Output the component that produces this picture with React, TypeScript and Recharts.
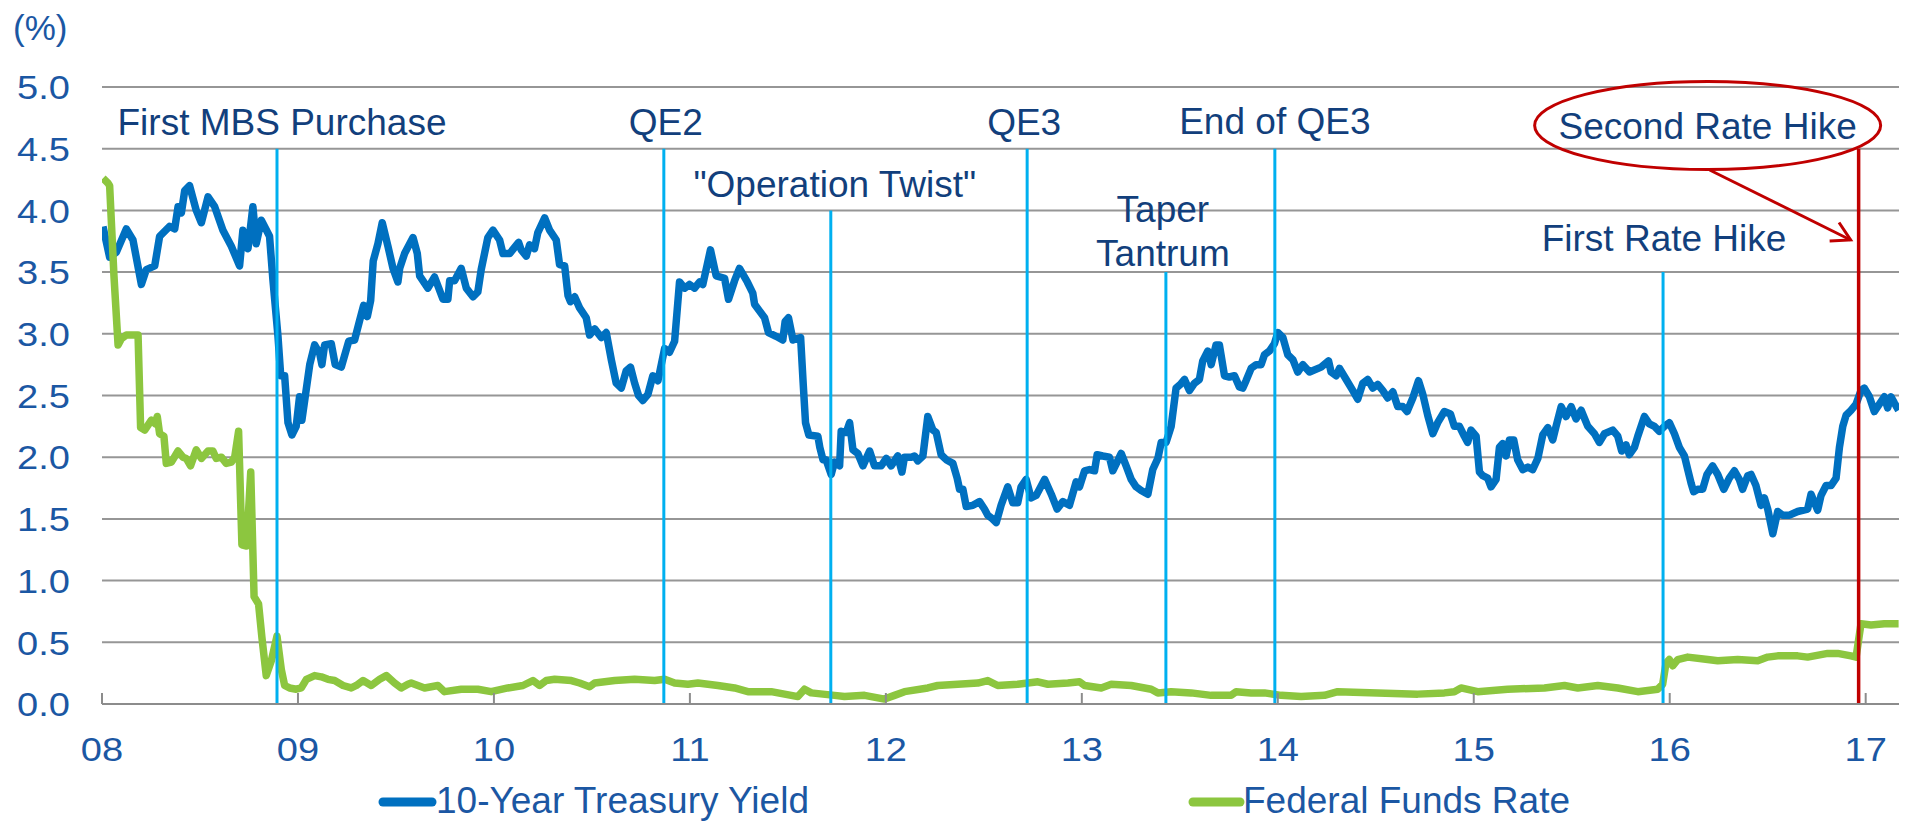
import { CartesianGrid, Customized, Line, LineChart, ReferenceLine, XAxis, YAxis } from "recharts";

// 10-year treasury yield, [decimal year, %]
const treasuryYield: [number, number][] = [
  [2008.005, 3.87], [2008.039, 3.62], [2008.073, 3.66], [2008.124, 3.85], [2008.158, 3.76], [2008.201, 3.4], [2008.226, 3.52],
  [2008.269, 3.55], [2008.294, 3.79], [2008.345, 3.87], [2008.371, 3.85], [2008.388, 4.03], [2008.405, 3.98], [2008.422, 4.16],
  [2008.447, 4.2], [2008.481, 4.0], [2008.507, 3.9], [2008.541, 4.11], [2008.575, 4.03], [2008.617, 3.84], [2008.66, 3.71],
  [2008.702, 3.55], [2008.719, 3.84], [2008.745, 3.69], [2008.77, 4.03], [2008.787, 3.73], [2008.813, 3.92], [2008.855, 3.79],
  [2008.872, 3.44], [2008.898, 2.98], [2008.912, 2.66], [2008.932, 2.66], [2008.949, 2.28], [2008.969, 2.18], [2008.991, 2.25],
  [2009.008, 2.49], [2009.02, 2.3], [2009.037, 2.49], [2009.06, 2.75], [2009.085, 2.91], [2009.111, 2.84], [2009.122, 2.75],
  [2009.136, 2.91], [2009.17, 2.92], [2009.19, 2.75], [2009.221, 2.73], [2009.259, 2.94], [2009.289, 2.95], [2009.315, 3.11],
  [2009.335, 3.23], [2009.354, 3.14], [2009.371, 3.27], [2009.384, 3.59], [2009.408, 3.73], [2009.43, 3.9], [2009.459, 3.71],
  [2009.485, 3.53], [2009.51, 3.42], [2009.519, 3.53], [2009.544, 3.65], [2009.587, 3.78], [2009.609, 3.65], [2009.621, 3.47],
  [2009.663, 3.37], [2009.697, 3.46], [2009.74, 3.28], [2009.765, 3.28], [2009.774, 3.43], [2009.799, 3.43], [2009.833, 3.53],
  [2009.859, 3.37], [2009.893, 3.3], [2009.918, 3.34], [2009.935, 3.52], [2009.969, 3.78], [2009.995, 3.84], [2010.029, 3.76],
  [2010.046, 3.65], [2010.08, 3.65], [2010.126, 3.74], [2010.139, 3.68], [2010.165, 3.63], [2010.182, 3.72], [2010.207, 3.69],
  [2010.224, 3.82], [2010.259, 3.94], [2010.284, 3.84], [2010.318, 3.76], [2010.335, 3.56], [2010.361, 3.55], [2010.378, 3.31],
  [2010.391, 3.26], [2010.412, 3.3], [2010.437, 3.21], [2010.471, 3.13], [2010.488, 2.99], [2010.514, 3.04], [2010.548, 2.97],
  [2010.573, 3.01], [2010.599, 2.79], [2010.624, 2.6], [2010.65, 2.56], [2010.675, 2.7], [2010.697, 2.73], [2010.718, 2.6],
  [2010.738, 2.5], [2010.76, 2.46], [2010.786, 2.51], [2010.811, 2.66], [2010.837, 2.62], [2010.871, 2.88], [2010.896, 2.85],
  [2010.922, 2.94], [2010.947, 3.42], [2010.973, 3.37], [2010.998, 3.4], [2011.024, 3.37], [2011.049, 3.42], [2011.066, 3.4],
  [2011.105, 3.68], [2011.134, 3.47], [2011.177, 3.45], [2011.197, 3.28], [2011.228, 3.43], [2011.253, 3.53], [2011.293, 3.42],
  [2011.321, 3.33], [2011.33, 3.24], [2011.381, 3.13], [2011.401, 3.01], [2011.44, 2.98], [2011.474, 2.95], [2011.486, 3.1],
  [2011.503, 3.13], [2011.526, 2.95], [2011.565, 2.97], [2011.578, 2.6], [2011.59, 2.28], [2011.607, 2.18], [2011.653, 2.17],
  [2011.663, 2.08], [2011.679, 1.98], [2011.695, 1.98], [2011.721, 1.86], [2011.738, 1.96], [2011.764, 1.93], [2011.772, 2.21],
  [2011.798, 2.2], [2011.815, 2.28], [2011.832, 2.06], [2011.857, 2.03], [2011.883, 1.93], [2011.917, 2.05], [2011.942, 1.93],
  [2011.976, 1.93], [2012.002, 1.99], [2012.027, 1.93], [2012.061, 2.01], [2012.082, 1.88], [2012.095, 2.0], [2012.129, 2.0],
  [2012.146, 2.01], [2012.163, 1.97], [2012.189, 2.01], [2012.214, 2.33], [2012.24, 2.22], [2012.257, 2.2], [2012.282, 2.02],
  [2012.308, 1.98], [2012.342, 1.95], [2012.364, 1.83], [2012.376, 1.74], [2012.393, 1.74], [2012.41, 1.6], [2012.444, 1.61],
  [2012.478, 1.64], [2012.503, 1.58], [2012.52, 1.53], [2012.537, 1.51], [2012.563, 1.47], [2012.588, 1.61], [2012.622, 1.76],
  [2012.648, 1.63], [2012.673, 1.63], [2012.69, 1.76], [2012.716, 1.82], [2012.741, 1.67], [2012.767, 1.69], [2012.81, 1.82],
  [2012.844, 1.7], [2012.874, 1.58], [2012.903, 1.64], [2012.937, 1.61], [2012.971, 1.8], [2012.988, 1.76], [2013.014, 1.89],
  [2013.039, 1.9], [2013.065, 1.89], [2013.078, 2.02], [2013.107, 2.01], [2013.141, 2.0], [2013.158, 1.89], [2013.201, 2.03],
  [2013.226, 1.93], [2013.252, 1.82], [2013.277, 1.76], [2013.303, 1.73], [2013.337, 1.7], [2013.362, 1.9], [2013.388, 1.99],
  [2013.405, 2.12], [2013.43, 2.12], [2013.456, 2.25], [2013.481, 2.56], [2013.503, 2.59], [2013.524, 2.63], [2013.549, 2.54],
  [2013.575, 2.6], [2013.6, 2.63], [2013.617, 2.78], [2013.643, 2.86], [2013.66, 2.75], [2013.685, 2.91], [2013.702, 2.91],
  [2013.728, 2.66], [2013.753, 2.65], [2013.779, 2.66], [2013.804, 2.57], [2013.821, 2.56], [2013.838, 2.62], [2013.864, 2.72],
  [2013.889, 2.75], [2013.915, 2.75], [2013.932, 2.83], [2013.957, 2.86], [2013.983, 2.92], [2014.0, 3.01], [2014.026, 2.97],
  [2014.051, 2.83], [2014.077, 2.79], [2014.102, 2.69], [2014.128, 2.75], [2014.162, 2.69], [2014.221, 2.73], [2014.259, 2.78],
  [2014.272, 2.69], [2014.298, 2.66], [2014.315, 2.72], [2014.349, 2.63], [2014.383, 2.54], [2014.408, 2.47], [2014.434, 2.6],
  [2014.459, 2.63], [2014.485, 2.56], [2014.51, 2.59], [2014.536, 2.54], [2014.561, 2.48], [2014.587, 2.53], [2014.612, 2.41],
  [2014.638, 2.41], [2014.66, 2.37], [2014.689, 2.48], [2014.718, 2.62], [2014.74, 2.51], [2014.765, 2.34], [2014.791, 2.19],
  [2014.816, 2.28], [2014.85, 2.37], [2014.881, 2.35], [2014.901, 2.25], [2014.927, 2.25], [2014.952, 2.17], [2014.969, 2.12],
  [2014.986, 2.22], [2015.012, 2.17], [2015.029, 1.88], [2015.046, 1.85], [2015.071, 1.83], [2015.088, 1.76], [2015.114, 1.82],
  [2015.131, 2.08], [2015.148, 2.11], [2015.165, 2.01], [2015.182, 2.14], [2015.204, 2.14], [2015.224, 1.98], [2015.25, 1.9],
  [2015.276, 1.92], [2015.301, 1.9], [2015.327, 1.99], [2015.352, 2.18], [2015.378, 2.24], [2015.403, 2.14], [2015.42, 2.25],
  [2015.446, 2.41], [2015.471, 2.33], [2015.497, 2.41], [2015.522, 2.31], [2015.548, 2.38], [2015.582, 2.25], [2015.616, 2.19],
  [2015.641, 2.12], [2015.667, 2.19], [2015.709, 2.22], [2015.735, 2.17], [2015.755, 2.05], [2015.777, 2.1], [2015.794, 2.02],
  [2015.82, 2.08], [2015.837, 2.17], [2015.871, 2.33], [2015.896, 2.27], [2015.922, 2.25], [2015.947, 2.21], [2015.973, 2.25],
  [2015.998, 2.28], [2016.024, 2.19], [2016.049, 2.08], [2016.075, 2.01], [2016.092, 1.9], [2016.109, 1.79], [2016.122, 1.72],
  [2016.143, 1.74], [2016.168, 1.74], [2016.19, 1.86], [2016.219, 1.93], [2016.245, 1.86], [2016.276, 1.74], [2016.304, 1.83],
  [2016.33, 1.89], [2016.355, 1.82], [2016.372, 1.74], [2016.398, 1.85], [2016.415, 1.86], [2016.44, 1.77], [2016.466, 1.61],
  [2016.483, 1.67], [2016.5, 1.58], [2016.526, 1.38], [2016.551, 1.56], [2016.577, 1.53], [2016.611, 1.53], [2016.653, 1.56],
  [2016.704, 1.58], [2016.721, 1.7], [2016.755, 1.57], [2016.772, 1.69], [2016.798, 1.77], [2016.823, 1.77], [2016.849, 1.83],
  [2016.866, 2.08], [2016.883, 2.25], [2016.9, 2.34], [2016.925, 2.38], [2016.951, 2.43], [2016.976, 2.54], [2016.993, 2.56],
  [2017.019, 2.49], [2017.044, 2.37], [2017.07, 2.43], [2017.095, 2.49], [2017.112, 2.4], [2017.129, 2.49], [2017.146, 2.44],
  [2017.168, 2.38],
];

// effective fed funds rate, [decimal year, %]
const fedFundsRate: [number, number][] = [
  [2008.005, 4.26], [2008.031, 4.22], [2008.039, 4.2], [2008.061, 3.47], [2008.082, 2.91], [2008.099, 2.96], [2008.124, 2.99],
  [2008.184, 2.99], [2008.197, 2.24], [2008.218, 2.22], [2008.252, 2.3], [2008.272, 2.27], [2008.282, 2.33], [2008.294, 2.19],
  [2008.316, 2.17], [2008.328, 1.95], [2008.354, 1.96], [2008.388, 2.05], [2008.413, 2.0], [2008.43, 1.99], [2008.452, 1.93],
  [2008.481, 2.06], [2008.507, 1.99], [2008.541, 2.05], [2008.566, 2.05], [2008.583, 1.99], [2008.609, 2.0], [2008.634, 1.95],
  [2008.66, 1.96], [2008.677, 2.0], [2008.697, 2.21], [2008.714, 1.29], [2008.738, 1.28], [2008.759, 1.88], [2008.776, 0.87],
  [2008.799, 0.81], [2008.816, 0.54], [2008.838, 0.23], [2008.864, 0.35], [2008.893, 0.55], [2008.915, 0.28], [2008.932, 0.15],
  [2008.957, 0.13], [2008.991, 0.12], [2009.017, 0.13], [2009.043, 0.2], [2009.085, 0.23], [2009.119, 0.22], [2009.153, 0.2],
  [2009.187, 0.19], [2009.23, 0.15], [2009.272, 0.13], [2009.298, 0.15], [2009.332, 0.19], [2009.374, 0.15], [2009.417, 0.2],
  [2009.451, 0.23], [2009.493, 0.17], [2009.527, 0.13], [2009.561, 0.16], [2009.578, 0.17], [2009.646, 0.13], [2009.714, 0.15],
  [2009.748, 0.1], [2009.833, 0.12], [2009.918, 0.12], [2009.986, 0.1], [2010.071, 0.13], [2010.148, 0.15], [2010.199, 0.19],
  [2010.233, 0.15], [2010.267, 0.19], [2010.31, 0.2], [2010.395, 0.19], [2010.437, 0.17], [2010.488, 0.14], [2010.514, 0.17],
  [2010.616, 0.19], [2010.718, 0.2], [2010.82, 0.19], [2010.871, 0.2], [2010.922, 0.17], [2010.99, 0.16], [2011.041, 0.17],
  [2011.143, 0.15], [2011.228, 0.13], [2011.296, 0.1], [2011.415, 0.1], [2011.517, 0.07], [2011.551, 0.06], [2011.585, 0.12],
  [2011.619, 0.09], [2011.738, 0.07], [2011.789, 0.06], [2011.891, 0.07], [2011.993, 0.04], [2012.044, 0.07], [2012.095, 0.1],
  [2012.214, 0.13], [2012.265, 0.15], [2012.367, 0.16], [2012.469, 0.17], [2012.52, 0.19], [2012.571, 0.15], [2012.673, 0.16],
  [2012.776, 0.18], [2012.827, 0.16], [2012.929, 0.17], [2012.988, 0.18], [2013.014, 0.15], [2013.099, 0.13], [2013.15, 0.16],
  [2013.252, 0.15], [2013.354, 0.12], [2013.388, 0.09], [2013.456, 0.1], [2013.558, 0.09], [2013.66, 0.07], [2013.762, 0.07],
  [2013.787, 0.1], [2013.864, 0.09], [2013.932, 0.09], [2014.017, 0.07], [2014.119, 0.06], [2014.238, 0.07], [2014.306, 0.1],
  [2014.51, 0.09], [2014.714, 0.08], [2014.85, 0.09], [2014.901, 0.1], [2014.935, 0.13], [2015.02, 0.1], [2015.173, 0.12],
  [2015.361, 0.13], [2015.463, 0.15], [2015.531, 0.13], [2015.633, 0.15], [2015.735, 0.13], [2015.837, 0.1], [2015.939, 0.12],
  [2015.964, 0.16], [2015.981, 0.33], [2015.998, 0.36], [2016.015, 0.31], [2016.041, 0.36], [2016.092, 0.38], [2016.194, 0.36],
  [2016.245, 0.35], [2016.347, 0.36], [2016.449, 0.35], [2016.5, 0.38], [2016.551, 0.39], [2016.653, 0.39], [2016.704, 0.38],
  [2016.806, 0.41], [2016.857, 0.41], [2016.925, 0.39], [2016.951, 0.38], [2016.976, 0.65], [2017.027, 0.64], [2017.095, 0.65],
  [2017.168, 0.65],
];

const yearTicks = [2008, 2009, 2010, 2011, 2012, 2013, 2014, 2015, 2016, 2017];
const valueTicks = [0, 0.5, 1, 1.5, 2, 2.5, 3, 3.5, 4, 4.5, 5];

// policy events: name, date, height the marker line reaches
const eventNames = ["First MBS Purchase", "QE2", '"Operation Twist"', "QE3", "Taper Tantrum", "End of QE3", "First Rate Hike", "Second Rate Hike"];
const eventDates = [2008.893, 2010.867, 2011.719, 2012.721, 2013.429, 2013.985, 2015.966, 2016.964];
const eventTops = [4.5, 4.5, 4.0, 4.5, 3.5, 4.5, 3.5, 4.5];

const FONT = "'Liberation Sans', Arial, sans-serif";
const TICK_BLUE = "#1B57A3";
const NOTE_BLUE = "#123F7C";
const BLUE = "#0070C0";
const GREEN = "#8CC63F";
const CYAN = "#00B0F0";
const RED = "#C00000";

// where each event's caption sits (dx from the marker line, text baselines)
const captionLayout: Record<string, { dx: number; lines: string[]; ys: number[] }> = {
  "First MBS Purchase": { dx: 5, lines: ["First MBS Purchase"], ys: [127] },
  QE2: { dx: 2, lines: ["QE2"], ys: [127] },
  '"Operation Twist"': { dx: 4, lines: ['"Operation Twist"'], ys: [189] },
  QE3: { dx: -3, lines: ["QE3"], ys: [127] },
  "Taper Tantrum": { dx: -3, lines: ["Taper", "Tantrum"], ys: [214, 258] },
  "End of QE3": { dx: 0, lines: ["End of QE3"], ys: [126] },
  "First Rate Hike": { dx: 1, lines: ["First Rate Hike"], ys: [243] },
  "Second Rate Hike": { dx: -151, lines: ["Second Rate Hike"], ys: [131] },
};

const treasuryData = treasuryYield.map(([t, v]) => ({ t, v }));
const fedData = fedFundsRate.map(([t, v]) => ({ t, v }));

function EventCaption({ viewBox, name }: { viewBox?: { x: number; y: number }; name: string }) {
  if (!viewBox) return null;
  const layout = captionLayout[name];
  const cx = viewBox.x + layout.dx;
  const isSecond = name === "Second Rate Hike";
  return (
    <g>
      {layout.lines.map((line, i) => (
        <text key={line} x={cx} y={layout.ys[i]} textAnchor="middle" fontFamily={FONT} fontSize={37} fill={NOTE_BLUE}>
          {line}
        </text>
      ))}
      {isSecond && (
        <g fill="none" stroke={RED} strokeWidth={3}>
          <ellipse cx={cx} cy={117.5} rx={173} ry={44} />
          <line x1={viewBox.x - 149} y1={162} x2={viewBox.x - 8} y2={232} />
          <polyline points={`${viewBox.x - 29},233 ${viewBox.x - 8},232 ${viewBox.x - 19.6},214.5`} strokeLinejoin="miter" />
        </g>
      )}
    </g>
  );
}

// the original's axis digits are a little wider than plain Arial
function YearTick(props: any) {
  const { x, y, payload } = props;
  return (
    <g>
      <line x1={x} x2={x} y1={y} y2={y - 11} stroke="#8C8C8C" strokeWidth={2} />
      <text transform={`translate(${x},${y + 57}) scale(1.12,1)`} textAnchor="middle" fontFamily={FONT} fontSize={34} fill={TICK_BLUE}>
        {String(payload.value).slice(2)}
      </text>
    </g>
  );
}

function ValueTick(props: any) {
  const { x, y, payload } = props;
  return (
    <text transform={`translate(${x},${y}) scale(1.12,1)`} dy="0.36em" textAnchor="end" fontFamily={FONT} fontSize={34} fill={TICK_BLUE}>
      {Number(payload.value).toFixed(1)}
    </text>
  );
}

function Extras() {
  return (
    <g fontFamily={FONT}>
      <text x={5} y={32} fontSize={35} fill={TICK_BLUE}>(%)</text>
      <line x1={375} x2={424} y1={794} y2={794} stroke={BLUE} strokeWidth={9} strokeLinecap="round" />
      <text x={428} y={805} fontSize={37} fill={TICK_BLUE}>10-Year Treasury Yield</text>
      <line x1={1185} x2={1232} y1={794} y2={794} stroke={GREEN} strokeWidth={9} strokeLinecap="round" />
      <text x={1235} y={805} fontSize={37} fill={TICK_BLUE}>Federal Funds Rate</text>
    </g>
  );
}

export default function App() {
  return (
    <div style={{ width: 1900, height: 814 }}>
      <LineChart width={1900} height={814} margin={{ top: 79, right: 9, bottom: 58, left: 0 }}>
        <CartesianGrid vertical={false} stroke="#969696" strokeWidth={2} />
        <XAxis
          dataKey="t"
          type="number"
          domain={[2008, 2017.17]}
          ticks={yearTicks}
          interval={0}
          allowDataOverflow
          height={60}
          tickSize={0}
          tickMargin={0}
          tickLine={false}
          axisLine={{ stroke: "#8C8C8C", strokeWidth: 2 }}
          tick={(p: any) => <YearTick {...p} />}
        />
        <YAxis
          type="number"
          domain={[0, 5]}
          ticks={valueTicks}
          interval={0}
          width={94}
          axisLine={false}
          tickLine={false}
          tickSize={0}
          tickMargin={32}
          tick={(p: any) => <ValueTick {...p} />}
        />
        <Line
          data={treasuryData}
          dataKey="v"
          name="10-Year Treasury Yield"
          type="linear"
          stroke={BLUE}
          strokeWidth={7.5}
          strokeLinejoin="round"
          dot={false}
          activeDot={false}
          isAnimationActive={false}
        />
        <Line
          data={fedData}
          dataKey="v"
          name="Federal Funds Rate"
          type="linear"
          stroke={GREEN}
          strokeWidth={7.5}
          strokeLinejoin="round"
          dot={false}
          activeDot={false}
          isAnimationActive={false}
        />
        {eventNames.map((name, i) => (
          <ReferenceLine
            key={name}
            segment={[
              { x: eventDates[i], y: 0 },
              { x: eventDates[i], y: eventTops[i] },
            ]}
            stroke={name === "Second Rate Hike" ? RED : CYAN}
            strokeWidth={name === "Second Rate Hike" ? 3.5 : 3}
            label={(p: any) => <EventCaption viewBox={p.viewBox} name={name} />}
          />
        ))}
        <Customized component={<Extras />} />
      </LineChart>
    </div>
  );
}
